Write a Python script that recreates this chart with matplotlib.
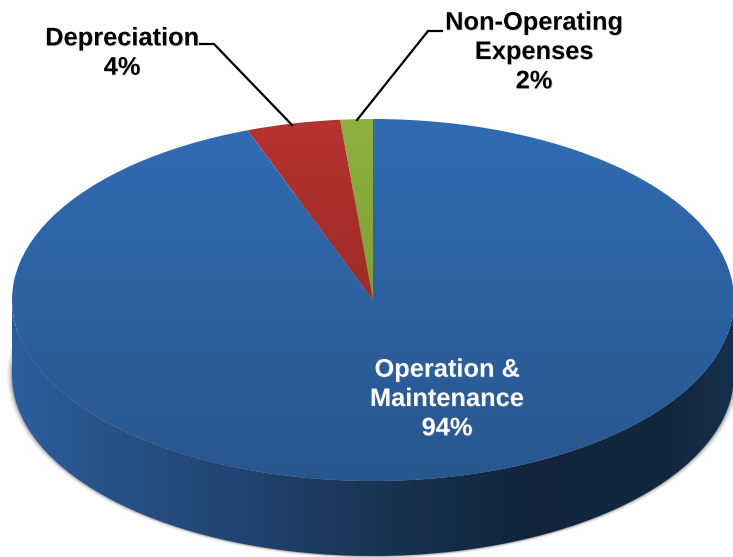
import numpy as np
import matplotlib
matplotlib.use('Agg')
import matplotlib.pyplot as plt
import matplotlib.patheffects as pe
from matplotlib.colors import LinearSegmentedColormap
from matplotlib.path import Path
from matplotlib.patches import PathPatch

plt.rcParams['font.family'] = ['Liberation Sans', 'DejaVu Sans']

# slice sizes as drawn (the 3D view moves them a little from the printed percents)
categories = ['Non-Operating Expenses', 'Depreciation', 'Operation & Maintenance']
drawn_share = [1.45, 4.2, 94.35]
percent_labels = ['2%', '4%', '94%']
top_colors = [('#8db140', '#6f8c30'), ('#b6332f', '#842420'), ('#316cb3', '#28568f')]

W, H = 733, 557
cx, cy = 373, 300
rx, ry = 361, 181
depth = 75

fig = plt.figure(figsize=(W / 100, H / 100), dpi=100)
ax = fig.add_axes([0, 0, 1, 1])

# pie on a unit circle, axes stretched so that it reads as an ellipse
wedges, _ = ax.pie(drawn_share, startangle=90, radius=1, center=(0, 0))
ax.set_aspect('auto')
d = depth / ry


def to_x(px):
    return (px - cx) / rx


def to_y(py):
    return (cy - py) / ry


# side wall of the disc
t = np.linspace(np.pi, 2 * np.pi, 200)
xs = np.concatenate([np.cos(t), np.cos(t[::-1])])
ys = np.concatenate([np.sin(t) - d, np.sin(t[::-1])])
side = PathPatch(Path(np.column_stack([xs, ys])), fc='none', ec='none', transform=ax.transData)
ax.add_patch(side)
side_cmap = LinearSegmentedColormap.from_list('side', [
    (0.0, '#2d5e9e'), (0.1, '#29548c'), (0.3, '#214673'), (0.5, '#193454'),
    (0.72, '#11243c'), (0.92, '#13283f'), (1.0, '#172f4e')])
extent = [-1, 1, to_y(H), to_y(280)]
im = ax.imshow(np.linspace(0, 1, 256)[None, :], cmap=side_cmap, extent=extent, aspect='auto', zorder=1)
im.set_clip_path(side)

# soft grey shadow behind the wall
t_full = np.linspace(0, 2 * np.pi, 300)
for off, a in [(5, 0.07), (3.5, 0.1), (2, 0.15), (1, 0.22)]:
    ax.fill(np.cos(t_full) * (1 + off / rx), np.sin(t_full) * (1 + off / 2 / ry) - d, color='#404040',
            alpha=a, lw=0, zorder=0.5)

# top face, a vertical gradient clipped to each wedge
for w, (c1, c2) in zip(wedges, top_colors):
    w.set_facecolor('none')
    w.set_edgecolor('none')
    cmap = LinearSegmentedColormap.from_list('g', [c1, c2])
    img = ax.imshow(np.linspace(0, 1, 256)[:, None], cmap=cmap, extent=[-1, 1, -1, 1],
                    origin='upper', aspect='auto', zorder=2)
    img.set_clip_path(w)

ax.set_xlim((0 - cx) / rx, (W - cx) / rx)
ax.set_ylim((cy - H) / ry, cy / ry)
ax.axis('off')

# leader lines
ax.plot([to_x(200), to_x(214), to_x(292)], [to_y(44), to_y(44), to_y(125)],
        color='black', lw=1.6, zorder=3, solid_joinstyle='miter')
ax.plot([to_x(442), to_x(428), to_x(357)], [to_y(31), to_y(31), to_y(120)],
        color='black', lw=1.6, zorder=3, solid_joinstyle='miter')

# labels
fs = 18.3
ls = 1.28
shadow = [pe.withSimplePatchShadow(offset=(0.6, -0.6), shadow_rgbFace='#909090', alpha=0.35)]
ax.text(to_x(122), to_y(53), 'Depreciation\n' + percent_labels[1], ha='center', va='center',
        fontsize=fs, fontweight='bold', color='black', linespacing=ls, path_effects=shadow, zorder=4)
ax.text(to_x(534), to_y(52), 'Non-Operating\nExpenses\n' + percent_labels[0], ha='center', va='center',
        fontsize=fs, fontweight='bold', color='black', linespacing=ls, path_effects=shadow, zorder=4)
ax.text(to_x(447), to_y(399), 'Operation &\nMaintenance\n' + percent_labels[2], ha='center', va='center',
        fontsize=fs, fontweight='bold', color='white', linespacing=ls, path_effects=shadow, zorder=4)

fig.savefig('out.png', dpi=100)
